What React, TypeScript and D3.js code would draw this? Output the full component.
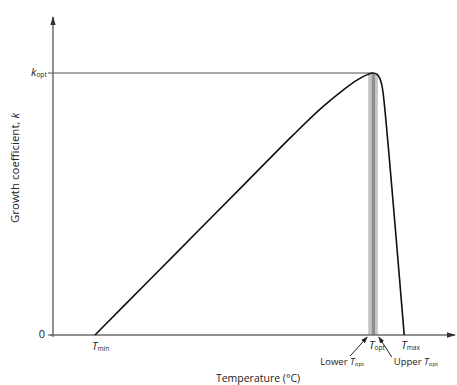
import React from "react";
import * as d3 from "d3";

const W = 457;
const H = 385;

// Temperature (arbitrary units) and growth coefficient k (relative to k_opt = 1)
const curveT = [5.25, 12, 18, 24, 30.0, 33.6, 36.3, 38.1, 39.3, 40.0, 40.5, 40.85, 41.1, 41.3, 43.9];
const curveK = [0, 0.208, 0.393, 0.578, 0.763, 0.868, 0.936, 0.975, 0.994, 1.0, 0.995, 0.98, 0.955, 0.915, 0];

const tMin = 5.25;
const tOpt = 40;
const lowerTopt = 39.4;
const upperTopt = 40.6;
const innerLower = 39.85;
const innerUpper = 40.25;
const tMax = 43.9;
const kOpt = 1;

const yTickValues = [0];

const xDomain = [0, 50];
const yDomain = [0, 1.214];

export default function App() {
  const x = d3.scaleLinear().domain(xDomain).range([53, 453]);
  const y = d3.scaleLinear().domain(yDomain).range([335, 17]);

  const pts: [number, number][] = curveT.map((t, i) => [t, curveK[i]]);
  const line = d3
    .line<[number, number]>()
    .x((d) => x(d[0]))
    .y((d) => y(d[1]))
    .curve(d3.curveCatmullRom.alpha(0.5));

  const axisColor = "#6b6b6b";
  const font = "'Open Sans', 'Noto Sans', sans-serif";
  const y0 = y(0);

  const sub = (main: string, s: string, px: number, py: number, anchor: string, size = 11) => (
    <text x={px} y={py} textAnchor={anchor} fontFamily={font} fontSize={size} fill="#222" dominantBaseline="middle">
      <tspan fontStyle="italic">{main}</tspan>
      <tspan fontSize={size * 0.6} dy={2}>{s}</tspan>
    </text>
  );

  return (
    <svg width={W} height={H} style={{ position: "absolute", left: 0, top: 0, background: "#fff" }}>
      <defs>
        <marker id="arr" viewBox="0 0 10 10" refX="9" refY="5" markerWidth="7" markerHeight="7" orient="auto">
          <path d="M0,1.5 L10,5 L0,8.5 Z" fill="#222" />
        </marker>
        <marker id="arrAx" viewBox="0 0 10 10" refX="9" refY="5" markerWidth="6" markerHeight="6" orient="auto">
          <path d="M0,2 L10,5 L0,8 Z" fill="#333" />
        </marker>
      </defs>

      {/* optimum band */}
      <rect x={x(lowerTopt)} y={y(kOpt)} width={x(upperTopt) - x(lowerTopt)} height={y0 - y(kOpt)} fill="#c4c4c4" />
      <rect x={x(innerLower)} y={y(kOpt)} width={x(innerUpper) - x(innerLower)} height={y0 - y(kOpt)} fill="#8f8f8f" />

      {/* k_opt reference line */}
      <line x1={x(0)} x2={x(tOpt)} y1={y(kOpt)} y2={y(kOpt)} stroke="#8a8a8a" strokeWidth={1.5} />

      {/* axes */}
      <line x1={x(0)} x2={x(0)} y1={y0 + 2} y2={y(yDomain[1])} stroke={axisColor} strokeWidth={1.5} markerEnd="url(#arrAx)" />
      <line x1={x(0) - 3} x2={x(xDomain[1]) + 2} y1={y0} y2={y0} stroke={axisColor} strokeWidth={1.5} markerEnd="url(#arrAx)" />
      {yTickValues.map((v) => (
        <g key={v}>
          <line x1={x(0) - 5} x2={x(0)} y1={y(v)} y2={y(v)} stroke={axisColor} strokeWidth={1.2} />
          <text x={x(0) - 8} y={y(v)} textAnchor="end" dominantBaseline="middle" fontFamily={font} fontSize={11} fill="#222">
            {v}
          </text>
        </g>
      ))}
      <line x1={x(0) - 5} x2={x(0)} y1={y(kOpt)} y2={y(kOpt)} stroke={axisColor} strokeWidth={1.2} />
      {sub("k", "opt", x(0) - 22, y(kOpt), "start", 11)}

      {/* growth curve */}
      <path d={line(pts) || ""} fill="none" stroke="#111" strokeWidth={1.6} />

      {/* temperature labels */}
      {sub("T", "min", x(tMin) - 3, y0 + 12, "start", 11)}
      {sub("T", "opt", x(tOpt) - 4, y0 + 11, "start", 11)}
      {sub("T", "max", x(tMax) - 3, y0 + 11, "start", 11)}

      <text x={x(lowerTopt) - 4} y={y0 + 27} textAnchor="end" dominantBaseline="middle" fontFamily={font} fontSize={9.5} fill="#222">
        Lower <tspan fontStyle="italic">T</tspan>
        <tspan fontSize={6} dy={2}>opt</tspan>
      </text>
      <text x={x(upperTopt) + 16} y={y0 + 27} textAnchor="start" dominantBaseline="middle" fontFamily={font} fontSize={9.5} fill="#222">
        Upper <tspan fontStyle="italic">T</tspan>
        <tspan fontSize={6} dy={2}>opt</tspan>
      </text>
      <line x1={x(lowerTopt) - 18} y1={y0 + 21} x2={x(lowerTopt) - 1} y2={y0 + 2} stroke="#222" strokeWidth={1} markerEnd="url(#arr)" />
      <line x1={x(upperTopt) + 14} y1={y0 + 22} x2={x(upperTopt) + 1} y2={y0 + 2} stroke="#222" strokeWidth={1} markerEnd="url(#arr)" />

      {/* axis titles */}
      <text x={258} y={379} textAnchor="middle" dominantBaseline="middle" fontFamily={font} fontSize={10.5} fill="#222">
        Temperature (°C)
      </text>
      <text
        transform="translate(16,168) rotate(-90)"
        textAnchor="middle"
        dominantBaseline="middle"
        fontFamily={font}
        fontSize={11.5}
        fill="#222"
      >
        Growth coefficient, <tspan fontStyle="italic">k</tspan>
      </text>
    </svg>
  );
}
